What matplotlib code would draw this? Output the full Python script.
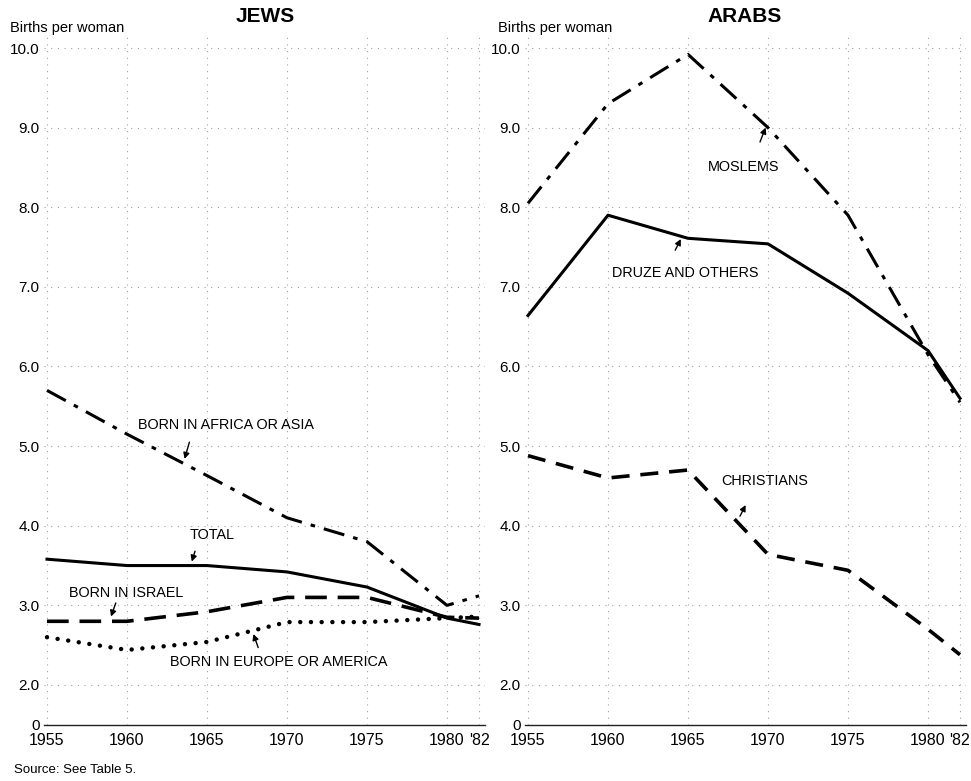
import matplotlib
matplotlib.use("Agg")
import matplotlib.pyplot as plt

plt.rcParams['font.family'] = ['Liberation Sans', 'DejaVu Sans']

years = [1955, 1960, 1965, 1970, 1975, 1980, 1982]
xtick_labels = ['1955', '1960', '1965', '1970', '1975', '1980', "'82"]
ytick_values = [1.5, 2, 3, 4, 5, 6, 7, 8, 9, 10]   # 1.5 is the broken-axis position of "0"
ytick_labels = ['0', '2.0', '3.0', '4.0', '5.0', '6.0', '7.0', '8.0', '9.0', '10.0']

# JEWS
jews_africa_asia = [5.70, 5.15, 4.63, 4.10, 3.80, 3.00, 3.12]
jews_total = [3.58, 3.50, 3.50, 3.42, 3.23, 2.84, 2.76]
jews_israel = [2.80, 2.80, 2.92, 3.10, 3.10, 2.85, 2.84]
jews_europe_america = [2.60, 2.44, 2.54, 2.79, 2.79, 2.84, 2.86]

# ARABS
arabs_moslems = [8.05, 9.30, 9.92, 9.00, 7.90, 6.15, 5.55]
arabs_druze = [6.64, 7.90, 7.61, 7.54, 6.92, 6.20, 5.60]
arabs_christians = [4.88, 4.60, 4.70, 3.64, 3.44, 2.70, 2.38]

W, H = 971, 781
fig = plt.figure(figsize=(W / 100, H / 100), dpi=100)

XMIN, XMAX = 1954.8, 1982.4
YMIN, YMAX = 1.5, 10.2
PXY = 16.0
PXV = 79.6


def make_ax(x1955_px):
    left = x1955_px - (1955 - XMIN) * PXY
    width = (XMAX - XMIN) * PXY
    top = 48 - (YMAX - 10) * PXV
    bottom = 685 + (2 - YMIN) * PXV
    ax = fig.add_axes([left / W, 1 - bottom / H, width / W, (bottom - top) / H])
    ax.set_xlim(XMIN, XMAX)
    ax.set_ylim(YMIN, YMAX)
    ax.set_xticks(years)
    ax.set_xticklabels(xtick_labels, fontsize=11.5)
    ax.set_yticks(ytick_values)
    ax.set_yticklabels(ytick_labels, fontsize=11)
    ax.tick_params(length=0, pad=3)
    ax.tick_params(axis='x', pad=6)
    for s in ['top', 'right', 'left']:
        ax.spines[s].set_visible(False)
    ax.spines['bottom'].set_linewidth(1.0)
    ax.spines['bottom'].set_color('#222222')
    ax.grid(True, color='#a0a0a0', linestyle=(0, (1, 5)), linewidth=0.8)
    ax.set_axisbelow(True)
    return ax


axL = make_ax(47)
axR = make_ax(528)

lw = 2.2
axL.plot(years, jews_africa_asia, color='black', lw=lw, linestyle=(0, (7, 3, 1.5, 3)), clip_on=False)
axL.plot(years, jews_total, color='black', lw=lw, linestyle='-', clip_on=False)
axL.plot(years, jews_israel, color='black', lw=2.6, linestyle=(0, (6, 3)), clip_on=False)
axL.plot(years, jews_europe_america, color='black', lw=3.2, linestyle=(0, (0.01, 2.4)),
         dash_capstyle='round', clip_on=False)

axR.plot(years, arabs_moslems, color='black', lw=lw, linestyle=(0, (7, 3, 1.5, 3)), clip_on=False)
axR.plot(years, arabs_druze, color='black', lw=lw, linestyle='-', clip_on=False)
axR.plot(years, arabs_christians, color='black', lw=2.6, linestyle=(0, (5, 3)), clip_on=False)

arrow = dict(arrowstyle='-|>,head_length=0.35,head_width=0.18', color='black', lw=1.0,
             shrinkA=0, shrinkB=0)
fs = 10.4

axL.text(1960.7, 5.27, 'BORN IN AFRICA OR ASIA', fontsize=fs, va='center', ha='left')
axL.annotate('', xy=(1963.6, 4.84), xytext=(1963.9, 5.05), arrowprops=arrow)
axL.text(1963.9, 3.88, 'TOTAL', fontsize=fs, va='center', ha='left')
axL.annotate('', xy=(1964.05, 3.55), xytext=(1964.25, 3.68), arrowprops=arrow)
axL.text(1956.4, 3.16, 'BORN IN ISRAEL', fontsize=fs, va='center', ha='left')
axL.annotate('', xy=(1959.0, 2.86), xytext=(1959.3, 3.03), arrowprops=arrow)
axL.text(1962.7, 2.29, 'BORN IN EUROPE OR AMERICA', fontsize=fs, va='center', ha='left')
axL.annotate('', xy=(1967.9, 2.64), xytext=(1968.2, 2.47), arrowprops=arrow)

axR.text(1966.25, 8.51, 'MOSLEMS', fontsize=fs, va='center', ha='left')
axR.annotate('', xy=(1969.85, 9.0), xytext=(1969.5, 8.82), arrowprops=arrow)
axR.text(1960.25, 7.18, 'DRUZE AND OTHERS', fontsize=fs, va='center', ha='left')
axR.annotate('', xy=(1964.55, 7.6), xytext=(1964.2, 7.46), arrowprops=arrow)
axR.text(1967.1, 4.56, 'CHRISTIANS', fontsize=fs, va='center', ha='left')
axR.annotate('', xy=(1968.6, 4.26), xytext=(1968.25, 4.12), arrowprops=arrow)

fig.text(265 / W, 1 - 17 / H, 'JEWS', fontsize=15, fontweight='bold', ha='center', va='center')
fig.text(745 / W, 1 - 17 / H, 'ARABS', fontsize=15, fontweight='bold', ha='center', va='center')
fig.text(10 / W, 1 - 28 / H, 'Births per woman', fontsize=10.5, ha='left', va='center')
fig.text(498 / W, 1 - 28 / H, 'Births per woman', fontsize=10.5, ha='left', va='center')
fig.text(14 / W, 1 - 770 / H, 'Source: See Table 5.', fontsize=9.5, ha='left', va='center')

fig.savefig('out.png', dpi=100)
